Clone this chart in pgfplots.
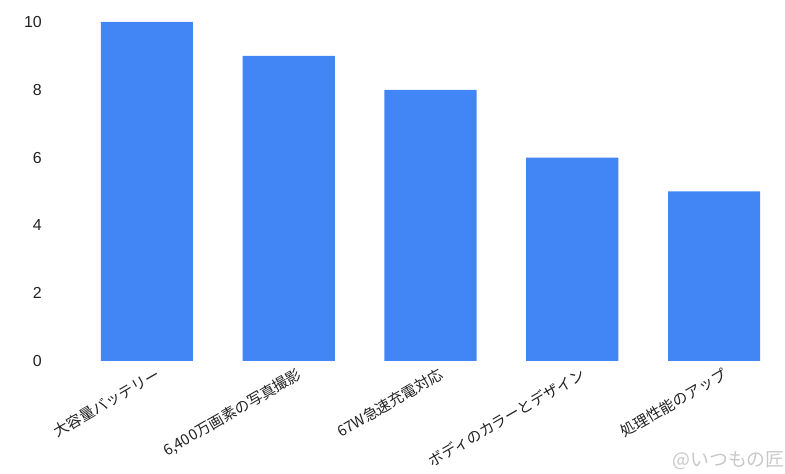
\documentclass[border=0pt]{standalone}
\usepackage{pgfplots}
\pgfplotsset{compat=1.18}
\usepackage{fontspec}
\setmainfont{Liberation Sans}
\newfontfamily\cjk{Noto Sans CJK JP}
\definecolor{barblue}{RGB}{66,133,244}
\definecolor{txt}{RGB}{34,34,34}
\definecolor{mark}{RGB}{200,200,200}
\begin{document}
\begin{tikzpicture}
\useasboundingbox (0,0) rectangle (785bp,474bp);
\begin{axis}[
    at={(76bp,113bp)}, anchor=south west,
    scale only axis, width=709bp, height=339bp,
    xmin=-0.5, xmax=4.5, ymin=0, ymax=10,
    ytick={0,2,...,10},
    xtick=data,
    xticklabels={大容量バッテリー,{6,400万画素の写真撮影},67W急速充電対応,ボディのカラーとデザイン,処理性能のアップ},
    axis line style={draw=none},
    major tick length=0pt,
    /pgf/number format/assume math mode=true,
    yticklabel style={font=\fontsize{16}{18}\selectfont, text=txt, inner sep=0pt, xshift=-34bp},
    xticklabel style={font=\cjk\fontsize{15}{17}\selectfont, text=txt, rotate=30, anchor=north east, inner sep=0pt, xshift=4bp, yshift=-9bp},
    ybar, bar width=0.65,
]
\addplot[fill=barblue, draw=none] coordinates {(0,10) (1,9) (2,8) (3,6) (4,5)};
\end{axis}
\node[anchor=south east, inner sep=0pt, text=mark, font=\cjk\fontsize{19}{21}\selectfont] at (785bp,4bp) {@いつもの匠};
\end{tikzpicture}
\end{document}
